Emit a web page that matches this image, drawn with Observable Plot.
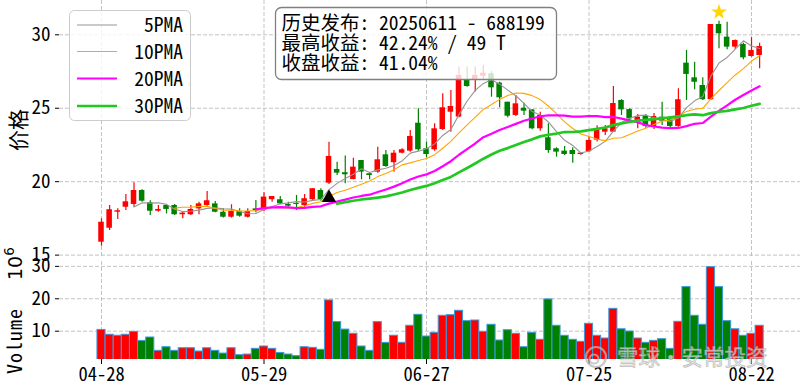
<!DOCTYPE html>
<html><head><meta charset="utf-8">
<script src="https://cdn.jsdelivr.net/npm/d3@7"></script>
<script src="https://cdn.jsdelivr.net/npm/@observablehq/plot@0.6"></script>
<style>
html,body{margin:0;padding:0;background:#fff;}
#wrap{position:relative;width:800px;height:385px;overflow:hidden;}
#wrap svg{position:absolute;left:0;}
</style></head><body><div id="wrap"></div>
<script>
// ---------- data ----------
const tickPos = [0, 20, 40, 60, 80];
const tickLabels = ["04-28", "05-29", "06-27", "07-25", "08-22"];
const priceTicks = [15, 20, 25, 30];
const volumeTicks = [10, 20, 30];
const openP = [15.88,16.83,17.92,18.26,18.45,19.40,18.56,17.99,18.38,18.38,17.75,17.75,18.15,18.38,18.49,17.92,17.58,17.97,17.58,18.15,
  18.04,18.77,18.77,18.45,18.52,18.38,18.77,19.40,19.90,20.83,20.61,20.15,21.44,20.54,20.65,21.83,21.29,21.94,22.08,23.98,
  22.24,22.17,23.55,24.73,24.40,26.94,26.95,27.18,27.35,26.71,25.41,24.51,25.00,24.89,23.60,22.99,22.24,22.08,22.12,21.85,
  22.04,22.83,23.37,23.37,25.53,24.91,24.05,24.44,23.76,24.39,24.28,23.76,28.07,27.07,26.55,25.58,30.70,29.84,29.16,29.34,28.52,28.59];
const highP = [17.47,18.38,18.16,19.13,19.93,19.45,18.70,18.38,18.38,18.45,17.97,18.38,18.60,19.33,18.65,18.15,18.43,18.15,18.15,18.72,
  19.24,18.99,18.99,18.60,19.06,19.13,19.52,19.52,22.69,21.33,21.74,21.60,21.44,20.54,22.35,22.12,22.12,22.24,23.49,24.96,
  22.69,23.94,25.98,26.21,27.80,27.80,27.80,27.91,27.50,26.77,25.41,25.87,25.34,24.89,24.73,23.94,22.31,22.40,22.31,21.94,
  23.08,23.80,23.83,26.48,25.58,24.96,24.57,24.57,24.64,25.41,24.44,26.32,28.93,28.13,27.07,30.70,30.93,30.86,29.65,29.43,29.80,29.43];
const lowP = [15.61,16.68,17.43,18.04,18.26,18.60,17.70,17.92,17.81,17.70,17.47,17.70,17.75,18.33,17.88,17.52,17.52,17.58,17.52,17.88,
  17.97,18.60,18.45,18.26,18.04,18.26,18.72,18.67,19.80,20.42,19.86,20.13,20.13,20.13,20.58,20.99,20.65,21.90,22.01,22.08,
  21.63,22.08,23.49,23.37,24.35,26.43,26.10,26.89,25.75,25.03,24.35,24.44,24.51,23.53,23.44,21.94,21.67,21.78,21.26,21.80,
  22.01,22.70,23.14,23.37,24.51,24.17,23.60,23.64,23.55,23.83,23.64,23.71,25.53,26.26,25.53,25.53,29.05,28.98,29.00,28.30,28.48,27.69];
const closeP = [17.24,18.09,18.02,18.63,19.40,18.67,17.99,18.11,18.11,17.75,17.86,18.11,18.49,18.70,17.92,17.58,17.97,17.65,17.97,18.02,
  18.95,18.99,18.49,18.33,18.45,18.84,19.52,18.77,21.72,20.58,20.47,20.99,20.65,20.42,21.49,21.03,21.94,22.17,23.08,22.17,
  21.85,23.60,25.03,25.12,27.23,26.48,27.23,27.39,26.39,25.71,24.46,25.30,24.80,23.60,24.51,22.12,22.01,21.85,21.85,21.94,
  22.81,23.51,23.60,25.32,24.89,24.28,24.39,23.76,24.44,24.12,23.76,25.58,27.30,26.77,25.58,30.70,30.07,29.16,29.61,28.43,28.93,29.20];
const volume = [10.4,8.9,8.6,8.9,9.8,7.0,8.05,3.95,5.06,3.95,4.75,4.75,3.73,4.75,3.95,3.1,4.75,2.6,2.8,4.56,
  5.28,4.56,3.3,2.8,2.3,5.06,4.87,4.26,19.5,12.8,10.5,9.2,5.28,3.95,12.8,6.4,8.6,6.42,11.67,15.06,
  8.36,9.5,14.75,14.94,16.3,13.1,13.3,9.8,11.98,7.13,10.3,9.2,5.06,9.5,7.35,19.8,11.67,8.58,7.35,6.73,
  12.28,8.58,7.75,16.9,10.6,9.9,7.75,6.42,7.03,7.53,4.56,12.9,23.6,14.75,11.98,29.75,23.6,13.1,10.6,8.58,9.2,11.67];
const maWindows = [5, 10, 20, 30];
const maLabels = ["5PMA", "10PMA", "20PMA", "30PMA"];
const releaseMarker = [{i: 28, price: 18.9}];
const peakMarker = [{i: 76, price: 31.55}];
const infoLines = ["历史发布: 20250611 - 688199", "最高收益: 42.24% / 49 T", "收盘收益: 41.04%"];

// ---------- styles ----------
const RED = "#ff0000", GREEN = "#008000";
const maColors = ["#959595", "#ffa500", "#ff00ff", "#22c822"];
const maWidths = [1.1, 1.1, 2.2, 2.7];
const FONT = '"Noto Sans Mono CJK SC", "DejaVu Sans Mono", "Noto Sans CJK SC", monospace';
const grid = {stroke: "#b4b4b4", strokeOpacity: 1, strokeWidth: 0.8, strokeDasharray: "4,2"};
const xDomain = [-5.17, 86.03];

const rows = closeP.map((c, i) => ({i, open: openP[i], high: highP[i], low: lowP[i], close: c, vol: volume[i], up: c >= openP[i]}));
function rollingMean(arr, k) { return arr.map((_, i) => i < k - 1 ? NaN : d3.mean(arr.slice(i - k + 1, i + 1))); }
const mas = maWindows.map(k => rollingMean(closeP, k));
const col = d => d.up ? RED : GREEN;

const pricePlot = Plot.plot({
  width: 800, height: 258, marginLeft: 59, marginRight: 0, marginTop: 0, marginBottom: 0,
  style: {background: "transparent", overflow: "visible", fontFamily: FONT, fontSize: "19px", color: "#000"},
  x: {domain: xDomain, axis: null, label: null},
  y: {domain: [14.77, 32.335], label: null},
  marks: [
    Plot.gridY(priceTicks, grid),
    Plot.gridX(tickPos, grid),
    Plot.axisY(priceTicks, {tickSize: 4, tickPadding: 5, fontSize: 19, label: null}),
    Plot.ruleX(rows, {x: "i", y1: "low", y2: "high", stroke: col, strokeWidth: 1.2}),
    Plot.rect(rows, {x1: d => d.i - 0.34, x2: d => d.i + 0.34, y1: "open", y2: "close", fill: col}),
    ...mas.map((m, j) => Plot.line(rows, {x: "i", y: (d, i) => m[i], stroke: maColors[j], strokeWidth: maWidths[j]})),
    Plot.dot(releaseMarker, {x: "i", y: "price", symbol: "triangle", r: 5.3, fill: "black", stroke: "none"}),
    Plot.dot(peakMarker, {x: "i", y: "price", symbol: "star", r: 5, fill: "#ffd700", stroke: "none"})
  ]
});
pricePlot.style.top = "0px";

const volPlot = Plot.plot({
  width: 800, height: 127, marginLeft: 59, marginRight: 0, marginTop: 3, marginBottom: 26,
  style: {background: "transparent", overflow: "visible", fontFamily: FONT, fontSize: "19px", color: "#000"},
  x: {domain: xDomain, label: null},
  y: {domain: [1.27, 31.5], label: null},
  marks: [
    Plot.gridY(volumeTicks, grid),
    Plot.gridX(tickPos, grid),
    Plot.rect(rows, {x1: d => d.i - 0.5, x2: d => d.i + 0.5, y1: d => 0, y2: "vol", fill: col, stroke: "#3a9ae0", strokeWidth: 1, clip: true}),
    Plot.axisY(volumeTicks, {tickSize: 4, tickPadding: 5, fontSize: 19, label: null}),
    Plot.axisX(tickPos, {tickSize: 5, tickPadding: 3, fontSize: 18.5, label: null, tickFormat: d => tickLabels[tickPos.indexOf(d)]})
  ]
});
volPlot.style.top = "258px";

const wrap = document.getElementById("wrap");
wrap.appendChild(pricePlot);
wrap.appendChild(volPlot);

// ---------- overlay: labels, legend, info box, watermark ----------
const ov = d3.select(wrap).append("svg").attr("width", 800).attr("height", 385).style("top", "0px")
  .attr("font-family", FONT);

ov.append("text").attr("transform", "translate(26,130) rotate(-90)").attr("text-anchor", "middle")
  .attr("font-size", 21).attr("font-family", '"Noto Sans CJK SC", sans-serif').text("价格");
ov.append("text").attr("transform", "translate(22,341) rotate(-90)").attr("text-anchor", "middle")
  .attr("font-size", 20).attr("letter-spacing", 1).text("Volume");
const off = ov.append("text").attr("transform", "translate(21.5,280) rotate(-90)")
  .attr("font-family", '"DejaVu Sans", sans-serif').attr("font-size", 19);
off.append("tspan").text("10");
off.append("tspan").attr("dy", -8).attr("font-size", 13.5).text("6");

// legend
const lg = ov.append("g");
lg.append("rect").attr("x", 69.5).attr("y", 10.5).attr("width", 121).attr("height", 110).attr("rx", 5)
  .attr("fill", "#fff").attr("fill-opacity", 0.8).attr("stroke", "#cccccc").attr("stroke-width", 1);
const legY = [25, 51.5, 78.5, 106];
maLabels.forEach((lab, j) => {
  lg.append("line").attr("x1", 77).attr("x2", 117).attr("y1", legY[j]).attr("y2", legY[j])
    .attr("stroke", maColors[j]).attr("stroke-width", maWidths[j]);
  lg.append("text").attr("x", 183).attr("y", legY[j] + 7).attr("text-anchor", "end").attr("font-size", 19.5).text(lab);
});

// info box
const ib = ov.append("g");
ib.append("rect").attr("x", 275.5).attr("y", 7.5).attr("width", 281).attr("height", 72).attr("rx", 6)
  .attr("fill", "#fff").attr("fill-opacity", 0.8).attr("stroke", "#808080").attr("stroke-width", 1.3);
infoLines.forEach((t, j) => {
  ib.append("text").attr("x", 281.5).attr("y", 29.5 + j * 20.3).attr("font-size", 19.5)
    .style("white-space", "pre").text(t);
});

// watermark
const wm = ov.append("g").attr("opacity", 0.75);
wm.append("circle").attr("cx", 596).attr("cy", 357).attr("r", 10).attr("fill", "none").attr("stroke", "#b8b8b8").attr("stroke-width", 2.2);
wm.append("circle").attr("cx", 594).attr("cy", 359).attr("r", 4.5).attr("fill", "none").attr("stroke", "#b8b8b8").attr("stroke-width", 2);
wm.append("text").attr("x", 617).attr("y", 365).attr("font-size", 21.5).attr("font-family", '"Noto Sans CJK SC", sans-serif')
  .attr("fill", "#e6e6e6").attr("stroke", "#a8a8a8").attr("stroke-width", 0.7).text("雪球・安常投资");
</script></body></html>
